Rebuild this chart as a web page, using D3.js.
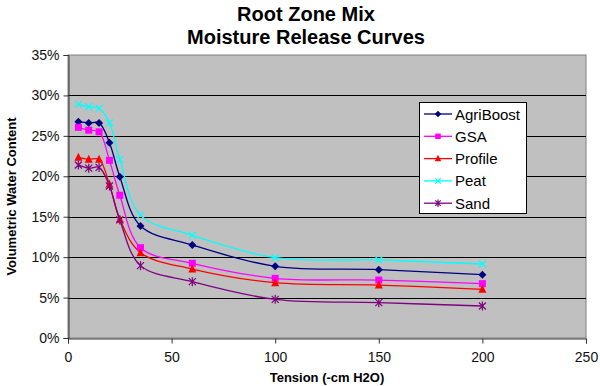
<!DOCTYPE html>
<html>
<head>
<meta charset="utf-8">
<script src="https://cdn.jsdelivr.net/npm/d3@7"></script>
<style>
  body { margin: 0; background: #fff; }
  svg { display: block; font-family: "Liberation Sans", Arial, sans-serif; }
</style>
</head>
<body>
<svg id="chart" width="600" height="386"></svg>
<script>
// ---- data ----
const tension = [5, 10, 15, 20, 25, 35, 60, 100, 150, 200];
const agriBoost = [0.2675, 0.2660, 0.2660, 0.2415, 0.1995, 0.1385, 0.1150, 0.0887, 0.0845, 0.0783];
const gsa       = [0.2605, 0.2570, 0.2550, 0.2197, 0.1765, 0.1117, 0.0924, 0.0738, 0.0717, 0.0672];
const profile   = [0.2235, 0.2210, 0.2210, 0.1900, 0.1470, 0.1055, 0.0853, 0.0684, 0.0655, 0.0602];
const peat      = [0.2890, 0.2860, 0.2840, 0.2660, 0.2210, 0.1520, 0.1270, 0.0993, 0.0965, 0.0915];
const sand      = [0.2140, 0.2100, 0.2110, 0.1880, 0.1460, 0.0895, 0.0697, 0.0478, 0.0437, 0.0396];
const seriesNames = ["AgriBoost", "GSA", "Profile", "Peat", "Sand"];
const seriesValues = [agriBoost, gsa, profile, peat, sand];
const xTicks = [0, 50, 100, 150, 200, 250];
const yTicks = [0, 0.05, 0.10, 0.15, 0.20, 0.25, 0.30, 0.35];
const titleLines = ["Root Zone Mix", "Moisture Release Curves"];
const xTitle = "Tension (-cm H2O)";
const yTitle = "Volumetric Water Content";

// ---- styles ----
const colors = ["#000080", "#FF00FF", "#FF0000", "#00FFFF", "#800080"];
const markers = ["diamond", "square", "triangle", "x", "star"];

const W = 600, H = 386;
const m = {left: 68, right: 14, top: 55, bottom: 48};
const pw = W - m.left - m.right, ph = H - m.top - m.bottom;

const svg = d3.select("#chart");
const x = d3.scaleLinear().domain([0, 250]).range([m.left, m.left + pw]);
const y = d3.scaleLinear().domain([0, 0.35]).range([m.top + ph, m.top]);

// plot background
svg.append("rect").attr("x", m.left).attr("y", m.top).attr("width", pw).attr("height", ph)
  .attr("fill", "#C0C0C0").attr("stroke", "#808080").attr("stroke-width", 1);

// gridlines
svg.append("g").selectAll("line").data(yTicks.filter(t => t > 0 && t < 0.35)).join("line")
  .attr("x1", m.left).attr("x2", m.left + pw)
  .attr("y1", d => Math.round(y(d)) + 0.5).attr("y2", d => Math.round(y(d)) + 0.5)
  .attr("stroke", "#000").attr("stroke-width", 1);

// axes
const yAxis = d3.axisLeft(y).tickValues(yTicks).tickFormat(d3.format(".0%")).tickSize(5).tickPadding(4);
const xAxis = d3.axisBottom(x).tickValues(xTicks).tickFormat(d3.format("d")).tickSize(5).tickPadding(9);
const gy = svg.append("g").attr("transform", `translate(${m.left + 0.5},0)`).call(yAxis);
const gx = svg.append("g").attr("transform", `translate(0,${m.top + ph + 0.5})`).call(xAxis);
[gx, gy].forEach(g => {
  g.select(".domain").attr("stroke", "#333");
  g.selectAll(".tick line").attr("stroke", "#333");
  g.selectAll(".tick text").attr("fill", "#111").attr("font-size", 14)
    .attr("font-family", "'Liberation Sans', Arial, sans-serif");
});

// symbols
function drawMarker(g, type, cx, cy, color, s) {
  const h = s / 2;
  if (type === "diamond") {
    g.append("path").attr("d", `M${cx},${cy - h - 0.5}L${cx + h + 0.5},${cy}L${cx},${cy + h + 0.5}L${cx - h - 0.5},${cy}Z`).attr("fill", color);
  } else if (type === "square") {
    g.append("rect").attr("x", cx - h).attr("y", cy - h).attr("width", s).attr("height", s).attr("fill", color);
  } else if (type === "triangle") {
    g.append("path").attr("d", `M${cx},${cy - h - 1}L${cx + h + 0.5},${cy + h}L${cx - h - 0.5},${cy + h}Z`).attr("fill", color);
  } else if (type === "x") {
    g.append("path").attr("d", `M${cx - h},${cy - h}L${cx + h},${cy + h}M${cx - h},${cy + h}L${cx + h},${cy - h}`)
      .attr("stroke", color).attr("stroke-width", 1.2).attr("fill", "none");
  } else if (type === "star") {
    g.append("path").attr("d", `M${cx - h},${cy - h}L${cx + h},${cy + h}M${cx - h},${cy + h}L${cx + h},${cy - h}M${cx},${cy - h - 1}L${cx},${cy + h + 1}`)
      .attr("stroke", color).attr("stroke-width", 1.2).attr("fill", "none");
  }
}

// lines
const line = d3.line().x(d => x(d[0])).y(d => y(d[1])).curve(d3.curveCatmullRom.alpha(0.5));
const plotG = svg.append("g");
seriesValues.forEach((vals, i) => {
  const pts = tension.map((t, j) => [t, vals[j]]);
  plotG.append("path").datum(pts).attr("d", line).attr("fill", "none")
    .attr("stroke", colors[i]).attr("stroke-width", 1.3);
});
seriesValues.forEach((vals, i) => {
  tension.forEach((t, j) => drawMarker(plotG, markers[i], x(t), y(vals[j]), colors[i], 7));
});

// legend
const lg = svg.append("g");
const lx = 419, ly = 102, lw = 107, lh = 111;
lg.append("rect").attr("x", lx + 0.5).attr("y", ly + 0.5).attr("width", lw).attr("height", lh)
  .attr("fill", "#fff").attr("stroke", "#000").attr("stroke-width", 1);
seriesNames.forEach((name, i) => {
  const cy = 114 + i * 22.3;
  lg.append("line").attr("x1", lx + 5).attr("x2", lx + 33).attr("y1", cy).attr("y2", cy)
    .attr("stroke", colors[i]).attr("stroke-width", 1.3);
  drawMarker(lg, markers[i], lx + 19, cy, colors[i], 5.5);
  lg.append("text").attr("x", lx + 36).attr("y", cy + 5.5).text(name)
    .attr("font-size", 15).attr("fill", "#000");
});

// titles
svg.append("g").selectAll("text").data(titleLines).join("text")
  .attr("x", 306).attr("y", (d, i) => 21 + i * 23).attr("text-anchor", "middle")
  .attr("font-size", 20).attr("font-weight", "bold").text(d => d);
svg.append("text").attr("x", m.left + pw / 2).attr("y", 382).attr("text-anchor", "middle")
  .attr("font-size", 13).attr("font-weight", "bold").text(xTitle);
svg.append("text").attr("transform", `translate(16,${m.top + ph / 2}) rotate(-90)`)
  .attr("text-anchor", "middle").attr("font-size", 13).attr("font-weight", "bold").text(yTitle);
</script>
</body>
</html>
